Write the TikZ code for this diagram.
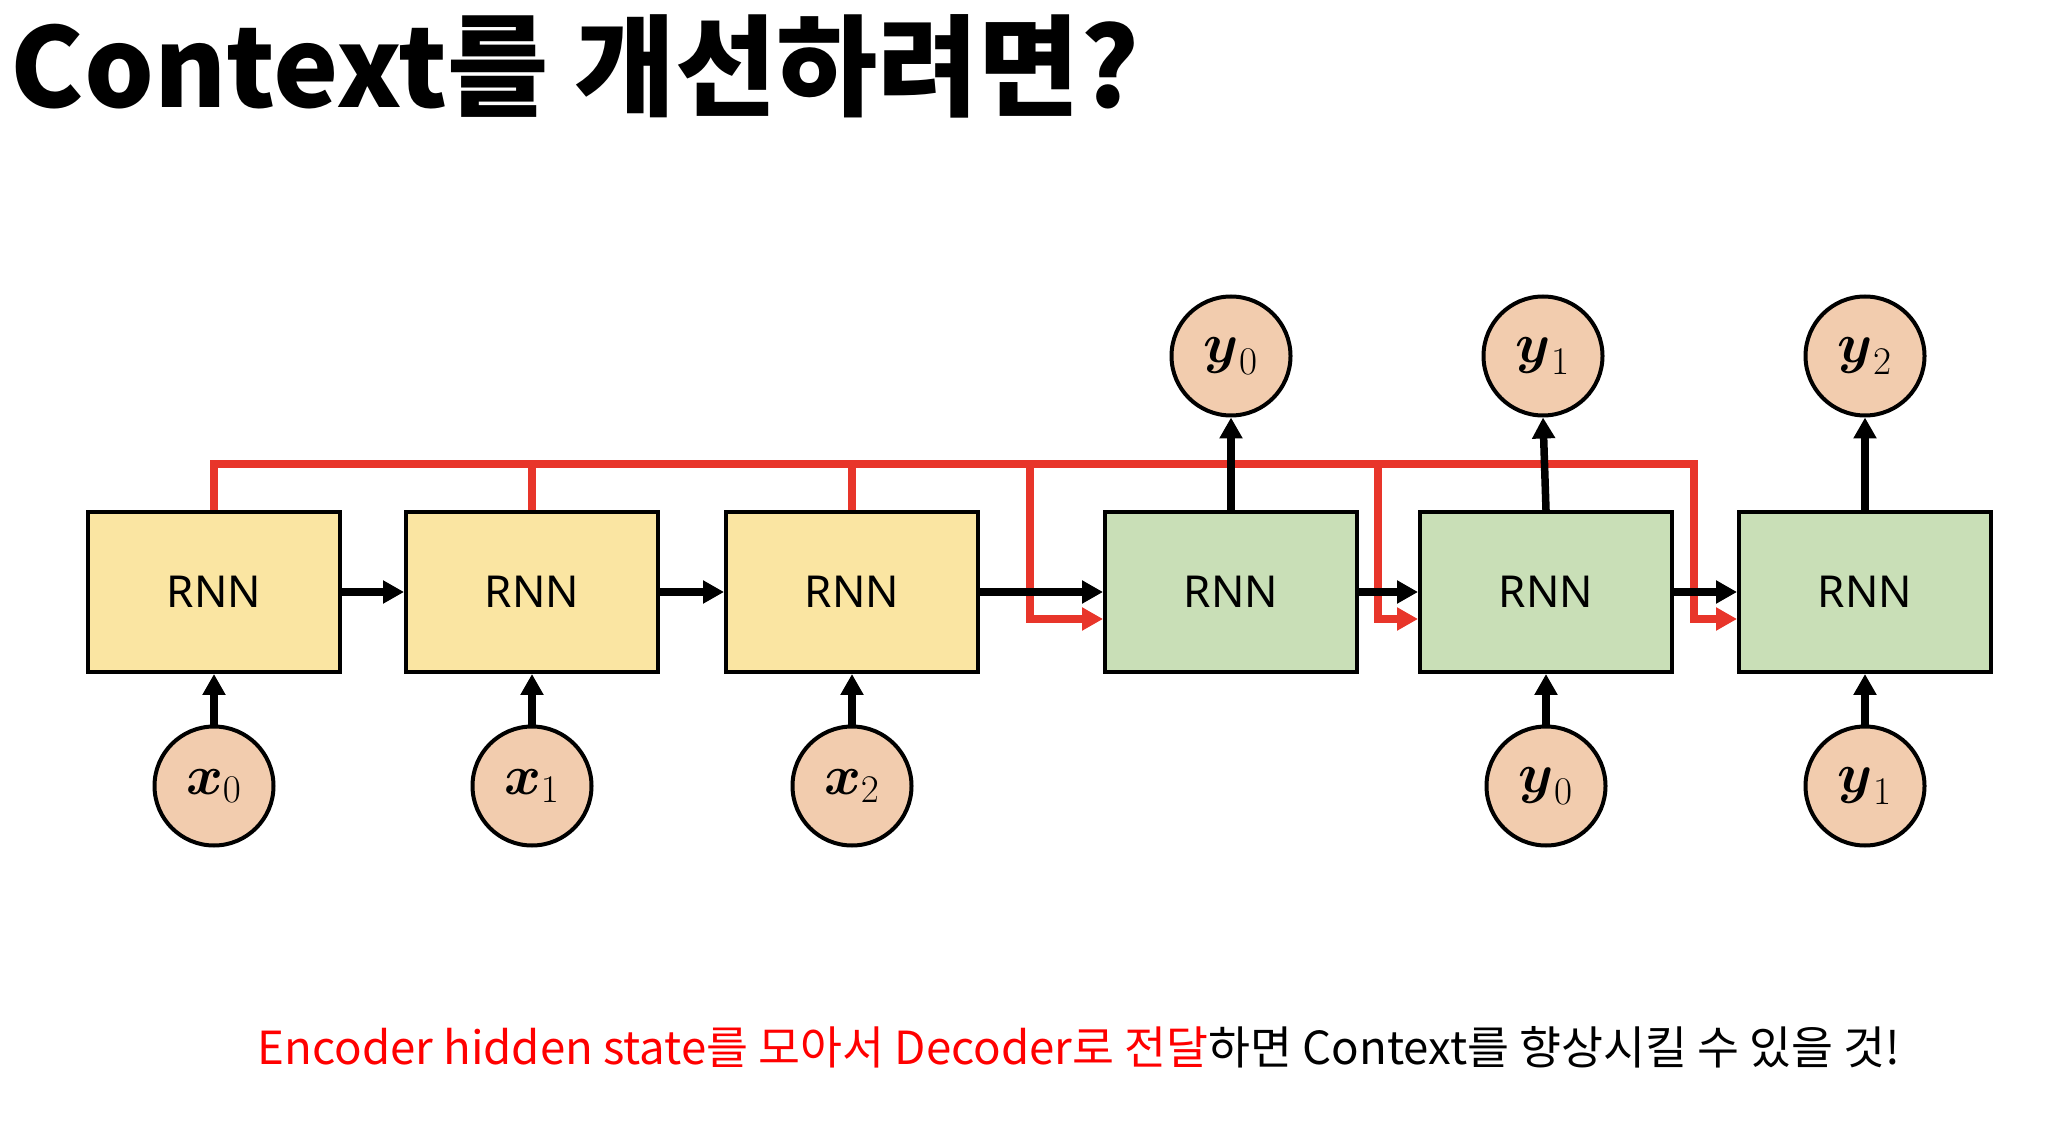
\RequirePackage{fix-cm}
\documentclass[tikz,border=0pt]{standalone}
\usepackage[no-math]{fontspec}
\usepackage{amsmath}
\usetikzlibrary{arrows.meta,calc}
\newfontfamily\krfont{Noto Sans CJK KR}
\newfontfamily\rnnfont{Noto Sans}
\definecolor{encY}{HTML}{FAE5A2}
\definecolor{decG}{HTML}{C9DFB7}
\definecolor{peach}{HTML}{F2CCAE}
\definecolor{redL}{HTML}{E8352A}
\definecolor{redT}{HTML}{FF0000}
\begin{document}
\begin{tikzpicture}[x=0.5pt,y=-0.5pt,
  rnnbox/.style={draw=black, line width=2pt, minimum width=126pt, minimum height=80pt, inner sep=0pt, font=\rnnfont\fontsize{22}{26}\selectfont},
  enc/.style={rnnbox, fill=encY},
  dec/.style={rnnbox, fill=decG},
  var/.style={circle, draw=black, line width=2pt, fill=peach, minimum size=59.5pt, inner sep=0pt, font=\fontsize{28}{32}\selectfont},
  conn/.style={line width=3.75pt, -{Triangle[length=10.5pt,width=11pt]}},
  ctx/.style={draw=redL, line width=3.75pt},
  ctxarrow/.style={ctx, -{Triangle[length=10.5pt,width=11pt]}},
]
\fill[white] (0,0) rectangle (2062,1138);
\useasboundingbox (0,0) rectangle (2062,1138);

% title and note
\node[anchor=base, inner sep=0pt, font=\krfont\bfseries\fontsize{55}{60}\selectfont] (title) at (575,108) {Context를 개선하려면?};
\node[anchor=base, inner sep=0pt, font=\krfont\fontsize{22.8}{27}\selectfont] (note) at (1079,1064) {\textcolor{redT}{Encoder hidden state를 모아서 Decoder로 전달}하면 Context를 향상시킬 수 있을 것!};

% RNN boxes
\node[enc] (e1) at (214,592) {RNN};
\node[enc] (e2) at (532,592) {RNN};
\node[enc] (e3) at (852,592) {RNN};
\node[dec] (d1) at (1231,592) {RNN};
\node[dec] (d2) at (1546,592) {RNN};
\node[dec] (d3) at (1865,592) {RNN};

% inputs
\node[var] (x0) at (214,786) {$\boldsymbol{x}_{0}$};
\node[var] (x1) at (532,786) {$\boldsymbol{x}_{1}$};
\node[var] (x2) at (852,786) {$\boldsymbol{x}_{2}$};
\node[var] (yi0) at (1546,786) {$\boldsymbol{y}_{0}$};
\node[var] (yi1) at (1865,786) {$\boldsymbol{y}_{1}$};
% outputs
\node[var] (yo0) at (1231,356) {$\boldsymbol{y}_{0}$};
\node[var] (yo1) at (1543,356) {$\boldsymbol{y}_{1}$};
\node[var] (yo2) at (1865,356) {$\boldsymbol{y}_{2}$};

% context bus (red)
\coordinate (b1) at (1030,464);
\coordinate (b2) at (1378,464);
\coordinate (b3) at (1694,464);
\coordinate (r1) at ($(d1.west)+(0,27)$);
\coordinate (r2) at ($(d2.west)+(0,27)$);
\coordinate (r3) at ($(d3.west)+(0,27)$);
\draw[ctxarrow] (e1.north) |- (b3) |- (r3);
\draw[ctx] (e2.north) -- (e2.north |- b3);
\draw[ctx] (e3.north) -- (e3.north |- b3);
\draw[ctxarrow] (b1) |- (r1);
\draw[ctxarrow] (b2) |- (r2);

% hidden state chain
\draw[conn] (e1.east) -- (e2.west);
\draw[conn] (e2.east) -- (e3.west);
\draw[conn] (e3.east) -- (d1.west);
\draw[conn] (d1.east) -- (d2.west);
\draw[conn] (d2.east) -- (d3.west);

% inputs to boxes
\draw[conn] (x0.north) -- (e1.south);
\draw[conn] (x1.north) -- (e2.south);
\draw[conn] (x2.north) -- (e3.south);
\draw[conn] (yi0.north) -- (d2.south);
\draw[conn] (yi1.north) -- (d3.south);

% outputs
\draw[conn] (d1.north) -- (yo0.south);
\draw[conn] (d2.north) -- (yo1.south);
\draw[conn] (d3.north) -- (yo2.south);
\end{tikzpicture}
\end{document}
